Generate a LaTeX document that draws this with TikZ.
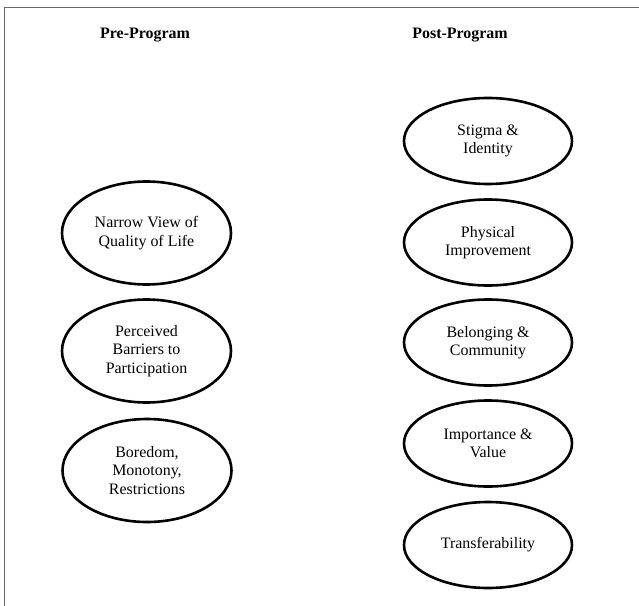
\documentclass[tikz,border=0pt]{standalone}
\usepackage{fontspec}
\setmainfont{Liberation Serif}
\usetikzlibrary{shapes.geometric}

\tikzset{
	theme/.style={draw,ellipse,line width=2.6bp,inner sep=0pt,align=center,
		font=\fontsize{16}{18.4}\selectfont},
	pretheme/.style={theme,minimum width=169bp,minimum height=103bp},
	posttheme/.style={theme,minimum width=168bp,minimum height=86bp},
	heading/.style={anchor=base,font=\fontsize{16}{18.4}\selectfont\bfseries}
}

\begin{document}
\begin{tikzpicture}[x=1bp,y=-1bp]
	\useasboundingbox (0,0) rectangle (639,606);
	\draw[gray!80!black,line width=1.3bp] (4.5,606) -- (4.5,7.5) -- (639,7.5);
	\node[heading] (pre) at (145,38.5) {Pre-Program};
	\node[heading] (post) at (460,39) {Post-Program};
	\node[pretheme] (narrow) at (146.5,233) {Narrow View of\\Quality of Life};
	\node[pretheme] (barriers) at (146.5,351) {Perceived\\Barriers to\\Participation};
	\node[pretheme] (boredom) at (147,470.5) {Boredom,\\Monotony,\\Restrictions};
	\node[posttheme] (stigma) at (488,141) {Stigma \&\\Identity};
	\node[posttheme] (physical) at (488,242.5) {Physical\\Improvement};
	\node[posttheme] (belonging) at (488,342.5) {Belonging \&\\Community};
	\node[posttheme] (importance) at (488,443.5) {Importance \&\\Value};
	\node[posttheme] (transfer) at (488,545) {Transferability};
\end{tikzpicture}
\end{document}
